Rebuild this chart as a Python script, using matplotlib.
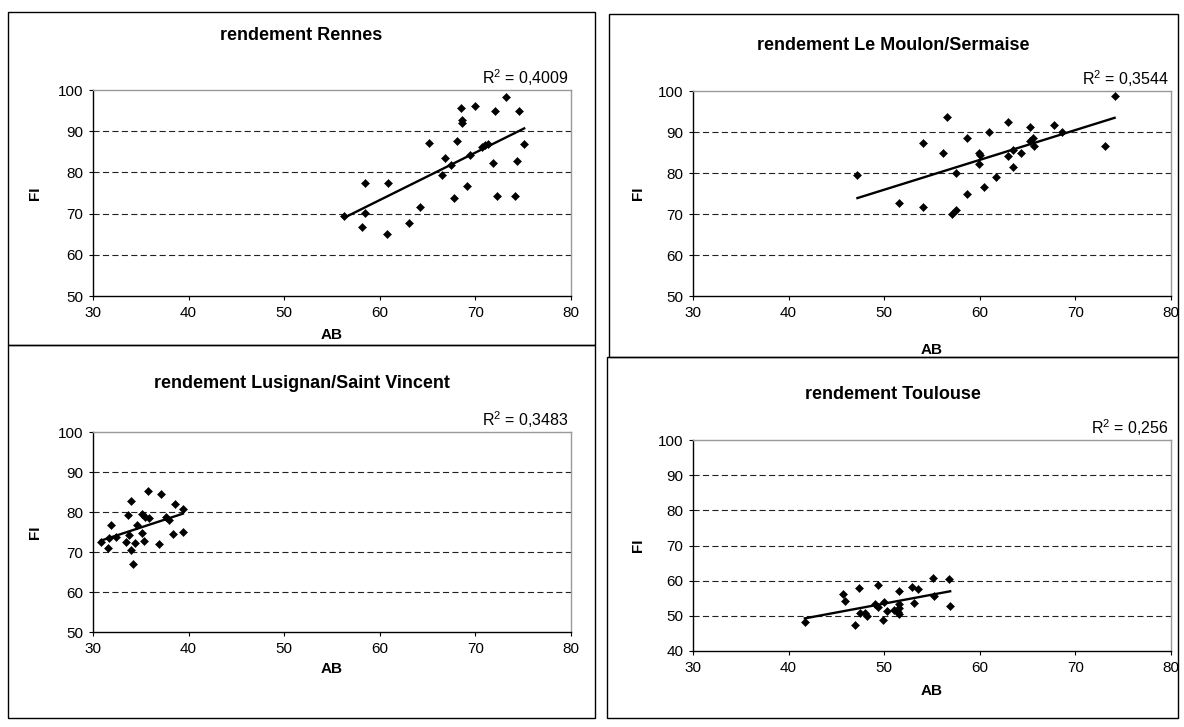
import numpy as np
import matplotlib.pyplot as plt
from matplotlib.patches import Rectangle

W, H = 1184, 727

# data (AB on x, FI on y)
rennes_ab = [56.3, 58.5, 58.5, 58.1, 60.9, 60.8, 63.1, 64.2, 65.1, 66.5, 66.8, 67.4, 67.8, 68.1, 68.5, 68.6,
             68.6, 69.1, 69.4, 70.0, 70.7, 71.0, 71.3, 71.8, 72.0, 72.3, 73.2, 74.1, 74.3, 74.6, 75.1]
rennes_fi = [69.5, 77.5, 70.1, 66.7, 77.5, 65.0, 67.7, 71.7, 87.2, 79.3, 83.6, 81.7, 73.7, 87.6, 95.7, 92.6,
             92.1, 76.8, 84.2, 96.1, 86.2, 86.7, 87.0, 82.4, 94.9, 74.2, 98.2, 74.2, 82.7, 94.9, 86.9]

moulon_ab = [47.2, 51.6, 54.1, 54.1, 56.2, 56.6, 57.1, 57.5, 57.5, 58.7, 58.7, 59.9, 59.9, 60.0, 60.4,
             61.0, 61.7, 62.9, 63.0, 63.5, 63.5, 64.3, 65.2, 65.3, 65.6, 65.7, 67.8, 68.6, 73.1, 74.1]
moulon_fi = [79.6, 72.8, 87.3, 71.6, 84.9, 93.6, 70.0, 70.9, 80.0, 88.5, 74.9, 82.1, 84.9, 84.4, 76.7,
             90.0, 79.1, 84.2, 92.4, 85.7, 81.5, 84.9, 91.1, 87.9, 88.6, 86.6, 91.8, 90.0, 86.6, 98.7]

lusignan_ab = [30.8, 31.6, 31.7, 31.9, 32.4, 33.5, 33.7, 33.8, 34.0, 34.0, 34.2, 34.4, 34.6, 35.1,
               35.1, 35.3, 35.4, 35.8, 35.9, 36.9, 37.1, 37.6, 37.9, 38.4, 38.6, 39.4, 39.4]
lusignan_fi = [72.4, 71.1, 73.6, 76.8, 73.8, 72.4, 79.2, 74.3, 82.7, 70.4, 67.1, 72.3, 76.8, 79.4,
               74.8, 72.8, 78.8, 85.3, 78.5, 71.9, 84.5, 78.8, 78.1, 74.6, 81.9, 80.7, 75.1]

toulouse_ab = [41.7, 45.7, 45.9, 46.9, 47.4, 47.5, 48.0, 48.2, 49.0, 49.3, 49.3, 49.9, 50.0, 50.3,
               51.0, 51.4, 51.6, 51.6, 51.6, 51.6, 52.9, 53.1, 53.5, 55.1, 55.2, 56.8, 56.9]
toulouse_fi = [48.2, 56.1, 54.3, 47.5, 58.0, 50.7, 50.7, 50.0, 53.5, 58.9, 52.6, 48.9, 53.8, 51.4,
               51.8, 51.1, 57.1, 53.3, 52.2, 50.6, 58.3, 53.6, 57.5, 60.8, 55.7, 60.5, 52.8]

titles = ["rendement Rennes", "rendement Le Moulon/Sermaise",
          "rendement Lusignan/Saint Vincent", "rendement Toulouse"]
r2_labels = [r"R$^2$ = 0,4009", r"R$^2$ = 0,3544", r"R$^2$ = 0,3483", r"R$^2$ = 0,256"]
y_mins = [50, 50, 50, 40]
x_ticks = [30, 40, 50, 60, 70, 80]

plt.rcParams['font.family'] = ['Liberation Sans', 'DejaVu Sans']
plt.rcParams['mathtext.fontset'] = 'custom'
plt.rcParams['mathtext.rm'] = 'Liberation Sans'
plt.rcParams['mathtext.default'] = 'regular'

fig = plt.figure(figsize=(W / 100, H / 100), dpi=100)


def fx(x):
    return x / W


def fy(y):
    return 1 - y / H


def box(l, t, r, b):
    fig.patches.append(Rectangle((fx(l), fy(b)), fx(r - l), (b - t) / H, transform=fig.transFigure,
                                 fill=False, edgecolor='black', lw=1.0))


# chart frames, plot areas (pixels: left, top, right, bottom), title/label positions
frames = [(8, 12, 595, 345), (609, 14, 1178, 357), (8, 345, 595, 718), (607, 357, 1178, 718)]
areas = [(93, 90, 571, 296), (693, 91, 1171, 296), (93, 432, 571, 632), (693, 440, 1171, 651)]
title_y = [36, 46, 384, 395]
ab_y = [335, 350, 669, 691]
series = [(rennes_ab, rennes_fi), (moulon_ab, moulon_fi),
          (lusignan_ab, lusignan_fi), (toulouse_ab, toulouse_fi)]

for i in range(4):
    box(*frames[i])
    l, t, r, b = areas[i]
    ax = fig.add_axes([fx(l), fy(b), fx(r - l), (b - t) / H])
    ab = np.array(series[i][0])
    fi = np.array(series[i][1])

    ax.plot(ab, fi, 'D', color='black', ms=4.0, mew=0.4, zorder=3, clip_on=False)
    k, c = np.polyfit(ab, fi, 1)
    xs = np.array([ab.min(), ab.max()])
    ax.plot(xs, k * xs + c, color='black', lw=1.7, zorder=4)

    ax.set_xlim(30, 80)
    ax.set_ylim(y_mins[i], 100)
    ax.set_xticks(x_ticks)
    yt = list(range(y_mins[i], 101, 10))
    ax.set_yticks(yt)
    for y in yt[1:-1]:
        ax.axhline(y, color='#222222', lw=0.8, ls=(0, (5.5, 3)), zorder=1)

    for s in ['top', 'right']:
        ax.spines[s].set_color('#999999')
        ax.spines[s].set_linewidth(1.0)
    for s in ['left', 'bottom']:
        ax.spines[s].set_color('black')
        ax.spines[s].set_linewidth(1.0)
    ax.tick_params(direction='out', length=3, width=0.8, labelsize=11, pad=4)

    cx = (frames[i][0] + frames[i][2]) / 2
    fig.text(fx(cx), fy(title_y[i]), titles[i], ha='center', va='center',
             fontsize=13, fontweight='bold')
    fig.text(fx(r - 2), fy(t - 2), r2_labels[i], ha='right', va='bottom', fontsize=11.5)
    fig.text(fx((l + r) / 2), fy(ab_y[i]), "AB", ha='center', va='center',
             fontsize=11, fontweight='bold')
    fig.text(fx(l - 58 if i % 2 == 0 else l - 55), fy((t + b) / 2), "FI", ha='center', va='center',
             fontsize=11, fontweight='bold', rotation=90)

fig.savefig("out.png", dpi=100)
